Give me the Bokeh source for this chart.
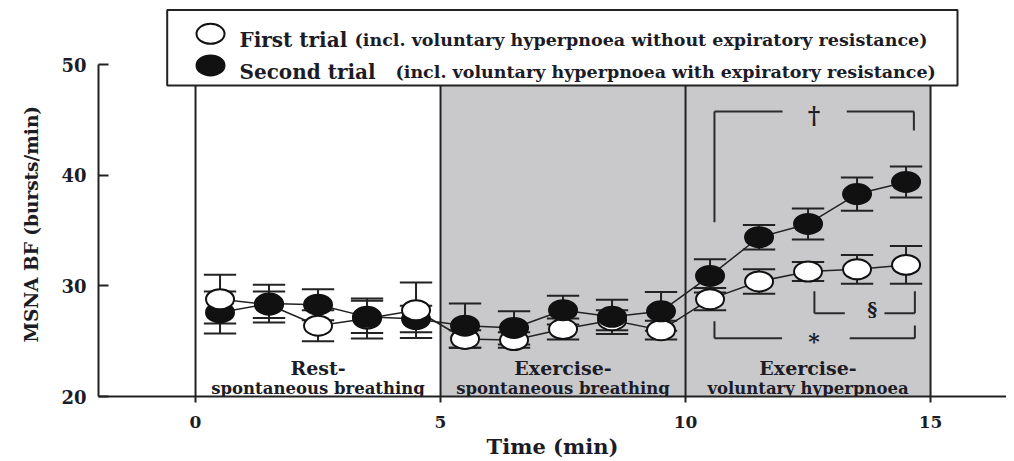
import numpy as np
from bokeh.plotting import figure
from bokeh.models import Range1d, FixedTicker, Title
from bokeh.core.properties import value
from bokeh.embed import file_html
from bokeh.resources import INLINE

# ---------------- data ----------------
times = [0.5, 1.5, 2.5, 3.5, 4.5, 5.5, 6.5, 7.5, 8.5, 9.5, 10.5, 11.5, 12.5, 13.5, 14.5]
first_trial = [28.8, 28.3, 26.4, 27.05, 27.8, 25.2, 25.1, 26.1, 26.9, 26.0, 28.8, 30.4, 31.3, 31.5, 31.9]
first_err = [2.2, 1.2, 1.4, 1.8, 2.5, 0.8, 0.7, 0.95, 0.9, 0.85, 1.0, 1.1, 0.85, 1.3, 1.7]
second_trial = [27.6, 28.4, 28.3, 27.2, 27.0, 26.4, 26.2, 27.8, 27.2, 27.7, 30.9, 34.4, 35.6, 38.3, 39.4]
second_err = [1.9, 1.7, 1.4, 1.45, 1.2, 2.0, 1.5, 1.3, 1.55, 1.75, 1.5, 1.1, 1.4, 1.5, 1.4]

x_ticks = [0, 5, 10, 15]
y_ticks = [20, 30, 40, 50]
phase_edges = [0, 5, 10, 15]
phase_titles = ["Rest-", "Exercise-", "Exercise-"]
phase_subtitles = ["spontaneous breathing", "spontaneous breathing", "voluntary hyperpnoea"]
legend_labels = ["First trial", "Second trial"]
legend_notes = ["(incl. voluntary hyperpnoea without expiratory resistance)",
                "(incl. voluntary hyperpnoea with expiratory resistance)"]
x_label = "Time (min)"
y_label = "MSNA BF (bursts/min)"

FONT = "DejaVu Serif"
TXT = "#1c1c26"
LINE = "#222222"

t = np.array(times)
f = np.array(first_trial)
fe = np.array(first_err)
s = np.array(second_trial)
se = np.array(second_err)

p = figure(width=1006, height=461, x_range=Range1d(-1.98, 16.55), y_range=Range1d(20, 55.08),
           output_backend="svg", toolbar_location=None,
           min_border_left=98, min_border_right=0, min_border_top=8, min_border_bottom=65)
p.outline_line_color = None
p.xgrid.visible = False
p.ygrid.visible = False
p.background_fill_color = "white"

legend_bottom = 48.12
legend_top = 54.95

# shaded exercise region
p.quad(left=phase_edges[1], right=phase_edges[3], bottom=20, top=legend_bottom,
       fill_color="#c9c9cb", line_color=None)
# vertical phase lines
p.segment(x0=phase_edges, x1=phase_edges, y0=[20] * 4, y1=[legend_bottom] * 4,
          line_color=LINE, line_width=2)

# significance brackets
def seg(x0, y0, x1, y1):
    p.segment(x0=[x0], y0=[y0], x1=[x1], y1=[y1], line_color="#2a2a2a", line_width=2)

# dagger bracket
seg(10.59, 35.76, 10.59, 45.77)
seg(10.59, 45.77, 11.98, 45.77)
seg(13.29, 45.77, 14.66, 45.77)
seg(14.66, 45.77, 14.66, 44.05)
# star bracket
seg(10.59, 26.8, 10.59, 25.27)
seg(10.59, 25.27, 11.97, 25.27)
seg(13.35, 25.27, 14.68, 25.27)
seg(14.68, 25.27, 14.68, 26.42)
# section bracket
seg(12.63, 29.52, 12.63, 27.53)
seg(12.63, 27.53, 13.25, 27.53)
seg(14.06, 27.53, 14.68, 27.53)
seg(14.68, 27.53, 14.68, 29.52)

p.text(x=[12.62], y=[45.4], text=["\u2020"], text_font=value(FONT), text_font_size="24px",
       text_font_style="bold", text_color=TXT, text_align="center", text_baseline="middle")
p.text(x=[12.62], y=[25.0], text=["*"], text_font=value(FONT), text_font_size="22px",
       text_font_style="bold", text_color=TXT, text_align="center", text_baseline="middle")
p.text(x=[13.81], y=[27.95], text=["\u00a7"], text_font=value(FONT), text_font_size="19px",
       text_font_style="bold", text_color=TXT, text_align="center", text_baseline="middle")

# error bars
cap = 0.33
for v, e in ((f, fe), (s, se)):
    p.segment(x0=t, x1=t, y0=v - e, y1=v + e, line_color=LINE, line_width=2)
    p.segment(x0=t - cap, x1=t + cap, y0=v + e, y1=v + e, line_color=LINE, line_width=2)
    p.segment(x0=t - cap, x1=t + cap, y0=v - e, y1=v - e, line_color=LINE, line_width=2)

# connecting lines
p.line(t, f, line_color=LINE, line_width=1.5)
p.line(t, s, line_color=LINE, line_width=1.5)

W, H = 28, 20
below = f > s
p.ellipse(x=t[below], y=s[below], width=W, height=H, width_units="screen", height_units="screen",
          fill_color="#111111", line_color="#111111", line_width=2)
p.ellipse(x=t, y=f, width=W, height=H, width_units="screen", height_units="screen",
          fill_color="white", line_color="#111111", line_width=2)
p.ellipse(x=t[~below], y=s[~below], width=W, height=H, width_units="screen", height_units="screen",
          fill_color="#111111", line_color="#111111", line_width=2)

# phase labels
mids = [(phase_edges[i] + phase_edges[i + 1]) / 2 for i in range(3)]
p.text(x=mids, y=[22.55] * 3, text=phase_titles, text_font=value(FONT), text_font_size="19px",
       text_font_style="bold", text_color=TXT, text_align="center", text_baseline="alphabetic")
p.text(x=mids, y=[20.72] * 3, text=phase_subtitles, text_font=value(FONT), text_font_size="16.5px",
       text_font_style="bold", text_color=TXT, text_align="center", text_baseline="alphabetic")

# legend (drawn manually)
p.quad(left=-0.578, right=15.55, bottom=legend_bottom, top=legend_top,
       fill_color="white", line_color=LINE, line_width=2)
p.ellipse(x=[0.306], y=[52.79], width=W, height=H, width_units="screen", height_units="screen",
          fill_color="white", line_color="#111111", line_width=2)
p.ellipse(x=[0.306], y=[49.93], width=W, height=H, width_units="screen", height_units="screen",
          fill_color="#111111", line_color="#111111", line_width=2)
p.text(x=[0.898, 0.898], y=[52.22, 49.3], text=legend_labels, text_font=value(FONT),
       text_font_size="20px", text_font_style="bold", text_color=TXT, text_baseline="alphabetic")
p.text(x=[3.245, 4.08], y=[52.22, 49.3], text=legend_notes, text_font=value(FONT),
       text_font_size="17.5px", text_font_style="bold", text_color=TXT, text_baseline="alphabetic")

# axes
p.xaxis.ticker = FixedTicker(ticks=x_ticks)
p.yaxis.ticker = FixedTicker(ticks=y_ticks)
p.yaxis.bounds = (20, 50)
for ax in (p.xaxis[0], p.yaxis[0]):
    ax.axis_line_color = LINE
    ax.axis_line_width = 2
    ax.major_tick_line_color = LINE
    ax.major_tick_line_width = 2
    ax.minor_tick_line_color = None
    ax.major_label_text_font = FONT
    ax.major_label_text_font_style = "bold"
    ax.major_label_text_color = TXT
    ax.axis_label_text_font = FONT
    ax.axis_label_text_font_style = "bold"
    ax.axis_label_text_color = TXT

p.xaxis.major_tick_in = 0
p.xaxis.major_tick_out = 6
p.xaxis.major_label_text_font_size = "17px"
p.xaxis.major_label_standoff = 13
p.xaxis.axis_label = x_label
p.xaxis.axis_label_text_font_size = "21px"
p.xaxis.axis_label_standoff = 3

p.yaxis.major_tick_in = 10
p.yaxis.major_tick_out = 0
p.yaxis.major_label_text_font_size = "18px"
p.yaxis.major_label_standoff = 12

# y-axis title, positioned along the 20-50 span
ytitle = Title(text=y_label, align="left", offset=54, standoff=34,
               text_font=FONT, text_font_style="bold", text_font_size="18.5px", text_color=TXT)
p.add_layout(ytitle, "left")

open("out.html", "w").write(file_html(p, INLINE))
